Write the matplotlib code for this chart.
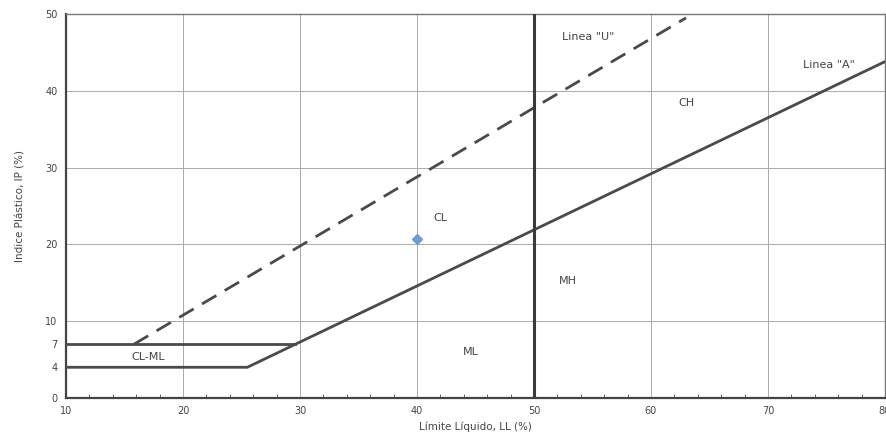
import numpy as np
import matplotlib
matplotlib.use("Agg")
import matplotlib.pyplot as plt

# Casagrande plasticity chart
A_LL = [10, 25.5, 80]
A_IP = [4, 4, 0.73 * (80 - 20)]
CLML7_LL = [10, 29.6]
CLML7_IP = [7, 7]
U_LL = [15.8, 63.0]
U_IP = [7, 0.9 * (63.0 - 8)]
SAMPLE_LL = [40]
SAMPLE_IP = [20.7]

YTICKS = [0, 4, 7, 10, 20, 30, 40, 50]
XTICKS = [10, 20, 30, 40, 50, 60, 70, 80]

LABELS = [("Linea \"U\"", 54.6, 47.0), ("Linea \"A\"", 75.2, 43.4), ("CH", 63.0, 38.4),
          ("CL", 42.0, 23.4), ("MH", 52.9, 15.2), ("ML", 44.6, 6.0), ("CL-ML", 17.0, 5.3)]

TXT = "#444444"
LINE = "#4a4a4a"

fig = plt.figure(figsize=(8.87, 4.48), dpi=100)
ax = fig.add_axes([0.0744, 0.1116, 0.9233, 0.8571])
ax.set_xlim(10, 80); ax.set_ylim(0, 50)

for x in [20, 30, 40, 60, 70]:
    ax.axvline(x, color="#aaaaaa", lw=0.7, zorder=1)
for y in [10, 20, 30, 40]:
    ax.axhline(y, color="#aaaaaa", lw=0.7, zorder=1)

ax.plot(A_LL, A_IP, color=LINE, lw=2.0, zorder=3)
ax.plot(CLML7_LL, CLML7_IP, color=LINE, lw=2.0, zorder=3)
ax.plot(U_LL, U_IP, color=LINE, lw=2.0, ls=(0, (6, 3.5)), zorder=3)
ax.axvline(50, color="#3a3a3a", lw=2.2, zorder=3)
ax.plot(SAMPLE_LL, SAMPLE_IP, "D", color="#6f9bd8", ms=5, zorder=4)

for s, x, y in LABELS:
    ax.text(x, y, s, ha="center", va="center", fontsize=8, color=TXT)

ax.set_xticks(XTICKS); ax.set_yticks(YTICKS)
ax.set_xticks(np.arange(10, 81, 2), minor=True)
ax.tick_params(axis="both", labelsize=7, colors=TXT, length=0, pad=6)
ax.tick_params(axis="x", which="minor", direction="in", length=3, color=LINE)
ax.set_xlabel("Límite Líquido, LL (%)", fontsize=7.5, color=TXT, labelpad=4)
ax.set_ylabel("Indice Plástico, IP (%)", fontsize=7.5, color=TXT, labelpad=14)
for side in ["top", "right"]:
    ax.spines[side].set_color("#777777"); ax.spines[side].set_linewidth(1.0)
for side in ["left", "bottom"]:
    ax.spines[side].set_color("#444444"); ax.spines[side].set_linewidth(1.6)

fig.savefig("out.png", dpi=100)
